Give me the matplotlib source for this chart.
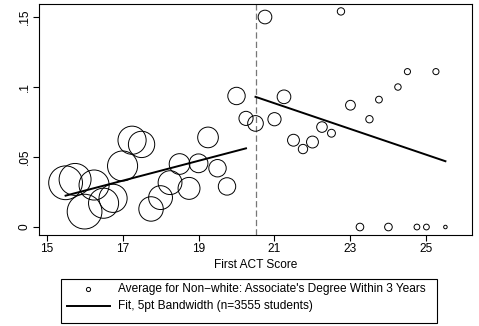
import numpy as np
import matplotlib
matplotlib.use("Agg")
import matplotlib.pyplot as plt
from matplotlib.lines import Line2D
from matplotlib.patches import Rectangle

plt.rcParams['font.family'] = ['Liberation Sans', 'DejaVu Sans']

# binned averages, 0.25 pt bins
act_bins = [15.5, 15.75, 16.0, 16.25, 16.5, 16.75, 17.0, 17.25, 17.5, 17.75,
            18.0, 18.25, 18.5, 18.75, 19.0, 19.25, 19.5, 19.75, 20.0, 20.25,
            20.5, 20.75, 21.0, 21.25, 21.5, 21.75, 22.0, 22.25, 22.5, 22.75,
            23.0, 23.25, 23.5, 23.75, 24.0, 24.25, 24.5, 24.75, 25.0, 25.25, 25.5]
avg_degree = [0.0316, 0.034, 0.011, 0.030, 0.017, 0.0205, 0.0436, 0.062, 0.059, 0.0129,
              0.021, 0.0317, 0.045, 0.0276, 0.0455, 0.064, 0.042, 0.029, 0.0936, 0.0776,
              0.074, 0.150, 0.077, 0.093, 0.062, 0.0557, 0.0607, 0.0714, 0.067, 0.154,
              0.087, 0.0, 0.077, 0.091, 0.0, 0.100, 0.111, 0.0, 0.0, 0.111, 0.0]
bin_counts = [275, 246, 291, 218, 218, 191, 218, 191, 167, 144,
              137, 137, 103, 116, 85, 103, 73, 73, 73, 48,
              59, 45, 42, 45, 34, 21, 34, 27, 15, 13,
              23, 14, 13, 11, 14, 10, 9, 8, 8, 9, 3]

# local linear fits either side of the cutoff
cutoff = 20.5
fit_left_x = [15.5, 20.25]
fit_left_y = [0.0224, 0.0562]
fit_right_x = [20.5, 25.5]
fit_right_y = [0.093, 0.047]

W, H = 479, 326
fs = 8.6
fig = plt.figure(figsize=(W / 100, H / 100), dpi=100)
ax = fig.add_axes([39 / W, (H - 235) / H, (472 - 39) / W, (235 - 4) / H])

sizes = 2.15 * np.array(bin_counts)
ax.scatter(act_bins, avg_degree, s=sizes, facecolors='none', edgecolors='black',
           linewidths=0.7, zorder=3)
ax.plot(fit_left_x, fit_left_y, color='black', lw=1.4, zorder=4)
ax.plot(fit_right_x, fit_right_y, color='black', lw=1.4, zorder=4)
ax.axvline(cutoff, color='#777777', lw=0.9, dashes=(5, 2.5), zorder=2)

ax.set_xlim(14.8, 26.2)
ax.set_ylim(-0.0057, 0.1593)
ax.set_xticks([15, 17, 19, 21, 23, 25])
ax.set_yticks([0, 0.05, 0.1, 0.15])
ax.set_yticklabels(['0', '.05', '.1', '.15'], rotation=90, va='center')
ax.tick_params(direction='out', length=4, width=0.8, labelsize=fs, pad=2)
ax.set_xlabel('First ACT Score', fontsize=fs, labelpad=3)
for sp in ax.spines.values():
    sp.set_linewidth(0.8)

# legend box drawn in figure pixels
def fx(px):
    return px / W

def fy(py):
    return (H - py) / H

fig.patches.append(Rectangle((fx(61), fy(323)), fx(437) - fx(61), fy(279) - fy(323),
                             transform=fig.transFigure, fill=False, edgecolor='black',
                             lw=0.8))
fig.lines.append(Line2D([fx(88)], [fy(289)], marker='o', markersize=3,
                        markerfacecolor='none', markeredgecolor='black',
                        markeredgewidth=0.7, transform=fig.transFigure))
fig.lines.append(Line2D([fx(67), fx(110)], [fy(306), fy(306)], color='black', lw=1.4,
                        transform=fig.transFigure))
fig.text(fx(118), fy(289), "Average for Non\u2212white: Associate's Degree Within 3 Years",
         fontsize=fs, va='center')
fig.text(fx(118), fy(306), "Fit, 5pt Bandwidth (n=3555 students)",
         fontsize=fs, va='center')

fig.savefig('out.png', dpi=100)
